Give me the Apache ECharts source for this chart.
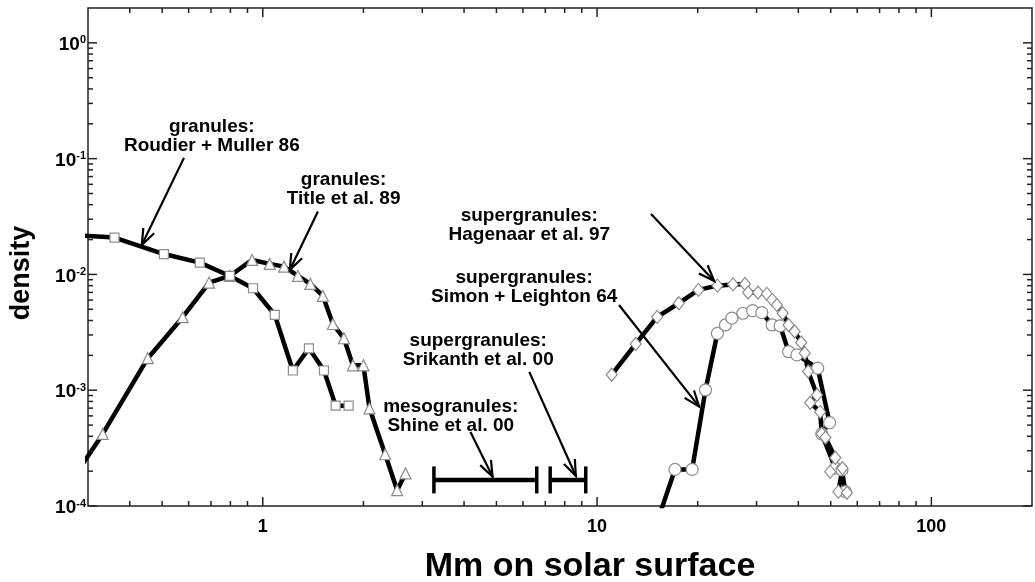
<!DOCTYPE html>
<html>
<head>
<meta charset="utf-8">
<script src="https://cdn.jsdelivr.net/npm/echarts@6/dist/echarts.min.js"></script>
<style>
  html, body { margin: 0; padding: 0; background: #fff; }
  #chart { width: 1035px; height: 582px; }
</style>
</head>
<body>
<div id="chart"></div>
<script>
// Size distributions of solar convection cells, from granules to supergranules

// granules: Roudier + Muller 86 (squares)
const roudierX = [0.284, 0.36, 0.506, 0.648, 0.797, 0.935, 1.086, 1.23, 1.374, 1.524, 1.652, 1.806];
const roudierY = [0.0217, 0.0208, 0.0150, 0.01265, 0.0097, 0.0076, 0.00447, 0.00148, 0.0023, 0.00148, 0.000736, 0.000736];

// granules: Title et al. 89 (triangles)
const titleX = [0.284, 0.332, 0.453, 0.576, 0.691, 0.797, 0.929, 1.049, 1.158, 1.274, 1.388, 1.513, 1.621, 1.749, 1.86, 2.0, 2.085, 2.323, 2.523, 2.673];
const titleY = [0.000213, 0.000419, 0.00189, 0.00427, 0.0085, 0.0097, 0.01334, 0.01233, 0.01168, 0.0097, 0.00828, 0.00652, 0.00373, 0.00281, 0.00164, 0.00164, 0.000698, 0.00028, 0.000137, 0.000191];

// supergranules: Hagenaar et al. 97 (diamonds)
const hagenaarX = [11.06, 13.05, 15.13, 17.57, 20.1, 22.9, 25.5, 27.7, 28.3, 30.3, 32.2, 33.4, 34.5, 35.9, 37.4, 39.0, 40.8, 41.8, 42.8, 45.5, 43.4, 46.5, 47.0, 48.2, 51.6, 49.8, 54.2, 52.7, 55.9];
const hagenaarY = [0.00136, 0.00251, 0.0043, 0.00564, 0.00735, 0.0080, 0.0082, 0.00828, 0.00697, 0.00697, 0.00679, 0.00603, 0.00545, 0.00462, 0.00366, 0.00321, 0.00258, 0.00209, 0.00145, 0.00091, 0.00078, 0.00065, 0.00042, 0.00039, 0.000261, 0.000198, 0.000212, 0.000133, 0.000130];

// supergranules: Simon + Leighton 64 (circles)
const simonX = [15.2, 17.1, 19.25, 21.1, 22.9, 24.2, 25.3, 27.3, 29.2, 31.1, 33.4, 35.3, 37.4, 39.6, 45.7, 49.6, 47.0, 51.6, 54.0, 55.3];
const simonY = [0.000076, 0.000207, 0.000207, 0.001005, 0.0031, 0.00366, 0.00419, 0.00462, 0.00487, 0.00468, 0.00366, 0.00359, 0.00215, 0.00202, 0.00155, 0.000525, 0.00042, 0.000212, 0.000205, 0.000133];

// size ranges (low, high) and their density level
const shineRange = [3.25, 6.6];
const srikanthRange = [7.24, 9.25];
const rangeY = [0.000168, 0.000168];

// annotation texts, their anchors and arrows
const noteTexts = [
  'granules:\nRoudier + Muller 86',
  'granules:\nTitle et al. 89',
  'supergranules:\nHagenaar et al. 97',
  'supergranules:\nSimon + Leighton 64',
  'supergranules:\nSrikanth et al. 00',
  'mesogranules:\nShine et al. 00'
];
const noteX = [0.704, 1.745, 6.27, 6.05, 4.41, 3.65];
const noteY = [0.1557, 0.0542, 0.0265, 0.00772, 0.002205, 0.000593];
const arrowTailX = [0.581, 1.462, 14.5, 11.63, 6.27, 4.18];
const arrowTailY = [0.1015, 0.0349, 0.0333, 0.00545, 0.00144, 0.000436];
const arrowHeadX = [0.4345, 1.204, 22.4, 20.2, 8.64, 4.87];
const arrowHeadY = [0.01798, 0.01094, 0.00879, 0.000721, 0.0001816, 0.000179];

// axes
const xRange = [0.3, 200];
const yRange = [1e-4, 2];
const xMajorTicks = [1, 10, 100];
const xMinorTicks = [0.4, 0.5, 0.6, 0.7, 0.8, 0.9, 2, 3, 4, 5, 6, 7, 8, 9, 20, 30, 40, 50, 60, 70, 80, 90];
const yMajorTicks = [1e-4, 1e-3, 1e-2, 1e-1, 1];
const yMinorTicks = [2e-4, 3e-4, 4e-4, 5e-4, 6e-4, 7e-4, 8e-4, 9e-4,
                     2e-3, 3e-3, 4e-3, 5e-3, 6e-3, 7e-3, 8e-3, 9e-3,
                     2e-2, 3e-2, 4e-2, 5e-2, 6e-2, 7e-2, 8e-2, 9e-2,
                     2e-1, 3e-1, 4e-1, 5e-1, 6e-1, 7e-1, 8e-1, 9e-1];
const xAxisTitle = 'Mm on solar surface';
const yAxisTitle = 'density';

const FONT = '"Liberation Sans", Arial, Helvetica, sans-serif';
const INK = '#000';
const FRAME = '#222';

function isPow10(v) {
  const e = Math.log10(v);
  return Math.abs(e - Math.round(e)) < 1e-6;
}

function curve(name, xs, ys, symbol, size) {
  return {
    type: 'line',
    name: name,
    data: xs.map(function (x, i) {
      const hidden = x < xRange[0] || ys[i] < yRange[0];
      return hidden ? { value: [x, ys[i]], symbol: 'none' } : [x, ys[i]];
    }),
    symbol: symbol,
    symbolSize: size,
    showAllSymbol: true,
    clip: true,
    silent: true,
    animation: false,
    lineStyle: { color: INK, width: 4.5, join: 'round', cap: 'round' },
    itemStyle: { color: '#fff', borderColor: '#8c8c8c', borderWidth: 1.2 },
    z: 3
  };
}

function tickSeries(values, axis, len) {
  return {
    type: 'custom',
    silent: true,
    animation: false,
    data: values.map(function (v) { return axis === 'x' ? [v, 1] : [1, v]; }),
    encode: { x: 0, y: 1 },
    z: 4,
    renderItem: function (params, api) {
      const cs = params.coordSys;
      const st = { stroke: FRAME, lineWidth: 1.5 };
      if (axis === 'x') {
        const px = api.coord([api.value(0), 1])[0];
        const b = cs.y + cs.height, t = cs.y;
        return { type: 'group', children: [
          { type: 'line', shape: { x1: px, y1: b, x2: px, y2: b - len }, style: st },
          { type: 'line', shape: { x1: px, y1: t, x2: px, y2: t + len }, style: st }
        ] };
      }
      const py = api.coord([1, api.value(1)])[1];
      const l = cs.x, r = cs.x + cs.width;
      return { type: 'group', children: [
        { type: 'line', shape: { x1: l, y1: py, x2: l + len, y2: py }, style: st },
        { type: 'line', shape: { x1: r, y1: py, x2: r - len, y2: py }, style: st }
      ] };
    }
  };
}

function rangeSeries(range, y) {
  return {
    type: 'custom',
    silent: true,
    animation: false,
    data: [[range[0], range[1], y]],
    encode: { x: [0, 1], y: 2 },
    z: 3,
    renderItem: function (params, api) {
      const p1 = api.coord([api.value(0), api.value(2)]);
      const p2 = api.coord([api.value(1), api.value(2)]);
      const h = 13.5;
      const cap = { stroke: INK, lineWidth: 3.5 };
      return { type: 'group', children: [
        { type: 'line', shape: { x1: p1[0], y1: p1[1], x2: p2[0], y2: p2[1] }, style: { stroke: INK, lineWidth: 4.5 } },
        { type: 'line', shape: { x1: p1[0], y1: p1[1] - h, x2: p1[0], y2: p1[1] + h }, style: cap },
        { type: 'line', shape: { x1: p2[0], y1: p2[1] - h, x2: p2[0], y2: p2[1] + h }, style: cap }
      ] };
    }
  };
}

const arrowSeries = {
  type: 'custom',
  silent: true,
  animation: false,
  data: arrowTailX.map(function (x, i) { return [x, arrowTailY[i], arrowHeadX[i], arrowHeadY[i]]; }),
  encode: { x: [0, 2], y: [1, 3] },
  z: 5,
  renderItem: function (params, api) {
    const p1 = api.coord([api.value(0), api.value(1)]);
    const p2 = api.coord([api.value(2), api.value(3)]);
    const ang = Math.atan2(p2[1] - p1[1], p2[0] - p1[0]);
    const L = 17, A = 0.36;
    const w1 = [p2[0] - L * Math.cos(ang - A), p2[1] - L * Math.sin(ang - A)];
    const w2 = [p2[0] - L * Math.cos(ang + A), p2[1] - L * Math.sin(ang + A)];
    const st = { stroke: INK, lineWidth: 2.2, fill: null };
    return { type: 'group', children: [
      { type: 'line', shape: { x1: p1[0], y1: p1[1], x2: p2[0], y2: p2[1] }, style: st },
      { type: 'polyline', shape: { points: [w1, p2, w2] }, style: st }
    ] };
  }
};

const noteSeries = {
  type: 'custom',
  silent: true,
  animation: false,
  data: noteX.map(function (x, i) { return [x, noteY[i], i]; }),
  encode: { x: 0, y: 1 },
  z: 6,
  renderItem: function (params, api) {
    const p = api.coord([api.value(0), api.value(1)]);
    return {
      type: 'text',
      x: p[0],
      y: p[1],
      style: {
        text: noteTexts[api.value(2)],
        fontFamily: FONT,
        fontWeight: 'bold',
        fontSize: 19,
        lineHeight: 19,
        align: 'center',
        verticalAlign: 'middle',
        fill: INK
      }
    };
  }
};

const chart = echarts.init(document.getElementById('chart'), null, { renderer: 'canvas' });

chart.setOption({
  animation: false,
  backgroundColor: '#fff',
  grid: {
    left: 88, right: -2, top: 8, bottom: 76,
    show: true, borderColor: FRAME, borderWidth: 1.5, backgroundColor: 'transparent'
  },
  xAxis: {
    type: 'log',
    logBase: 10,
    min: xRange[0],
    max: xRange[1],
    axisLine: { show: false },
    axisTick: { show: false },
    splitLine: { show: false },
    axisLabel: {
      margin: 12,
      color: INK,
      fontFamily: FONT,
      fontWeight: 'bold',
      fontSize: 18,
      showMinLabel: true,
      showMaxLabel: true,
      formatter: function (v) { return isPow10(v) ? String(Math.round(v)) : ''; }
    }
  },
  yAxis: {
    type: 'log',
    logBase: 10,
    min: yRange[0],
    max: yRange[1],
    axisLine: { show: false },
    axisTick: { show: false },
    splitLine: { show: false },
    axisLabel: {
      margin: 2,
      color: INK,
      formatter: function (v) {
        if (!isPow10(v)) return '';
        return '{b|10}{s|' + Math.round(Math.log10(v)) + '}';
      },
      rich: {
        b: { fontFamily: FONT, fontWeight: 'bold', fontSize: 19, lineHeight: 22, color: INK, padding: [4, 0, 0, 0] },
        s: { fontFamily: FONT, fontWeight: 'bold', fontSize: 11, lineHeight: 12, color: INK, verticalAlign: 'top', padding: [3, 0, 0, 0] }
      }
    }
  },
  graphic: [
    {
      type: 'text', x: 590, y: 567, silent: true,
      style: { text: xAxisTitle, fontFamily: FONT, fontWeight: 'bold', fontSize: 34, align: 'center', verticalAlign: 'middle', fill: INK }
    },
    {
      type: 'text', x: 22, y: 273, rotation: Math.PI / 2, silent: true,
      style: { text: yAxisTitle, fontFamily: FONT, fontWeight: 'bold', fontSize: 27, align: 'center', verticalAlign: 'middle', fill: INK }
    }
  ],
  series: [
    tickSeries(xMajorTicks, 'x', 9),
    tickSeries(xMinorTicks, 'x', 5),
    tickSeries(yMajorTicks, 'y', 9),
    tickSeries(yMinorTicks, 'y', 5),
    curve('Title et al. 89', titleX, titleY, 'triangle', 11),
    curve('Roudier + Muller 86', roudierX, roudierY, 'rect', 9),
    curve('Simon + Leighton 64', simonX, simonY, 'circle', 12),
    curve('Hagenaar et al. 97', hagenaarX, hagenaarY, 'diamond', [11, 13]),
    rangeSeries(shineRange, rangeY[0]),
    rangeSeries(srikanthRange, rangeY[1]),
    arrowSeries,
    noteSeries
  ]
});
</script>
</body>
</html>
